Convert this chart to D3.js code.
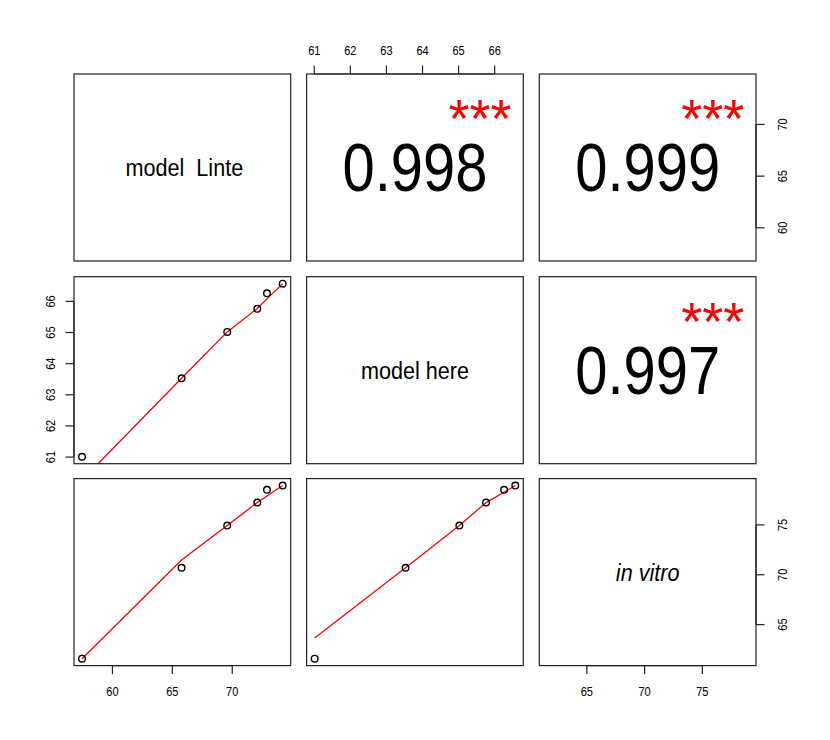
<!DOCTYPE html>
<html>
<head>
<meta charset="utf-8">
<script src="https://cdn.jsdelivr.net/npm/d3@7"></script>
<style>
  body { margin: 0; background: #fff; }
  text { font-family: 'Liberation Sans', Arial, Helvetica, sans-serif; }
  .box { fill: none; stroke: #222; stroke-width: 1.2; }
  .axis-line, .tick-line { stroke: #222; stroke-width: 1.2; }
  .tick-label { font-size: 13px; fill: #000; }
  .point { fill: none; stroke: #000; stroke-width: 1.4; }
  .smooth { fill: none; stroke: #ff0000; stroke-width: 1.3; }
</style>
</head>
<body>
<svg id="chart"></svg>
<script>
// variable names (diagonal labels)
const varNames = ['model  Linte', 'model here', 'in vitro'];

const modelLinte = [57.46, 65.77, 69.58, 72.09, 72.90, 74.21];
const modelHere  = [61.01, 63.53, 65.02, 65.76, 66.26, 66.57];
const inVitro    = [61.58, 70.70, 74.93, 77.24, 78.52, 78.95];

// red smoother values at each x
const smoothHereOnLinte  = [60.26, 63.53, 65.02, 65.77, 66.08, 66.57];
const smoothVitroOnLinte = [61.58, 71.48, 74.93, 77.24, 77.90, 78.95];
const smoothVitroOnHere  = [63.65, 70.70, 74.93, 77.24, 78.27, 78.95];

// correlations for the upper panels
const corPairs  = [[0, 1], [0, 2], [1, 2]];
const corValues = ['0.998', '0.999', '0.997'];
const corStars  = ['***', '***', '***'];

// tick labels
const ticksLinte = [60, 65, 70];
const ticksHere  = [61, 62, 63, 64, 65, 66];
const ticksVitro = [65, 70, 75];

class PairsPlot {

  constructor(_config) {
    this.config = {
      parentElement: _config.parentElement,
      containerWidth: 830,
      containerHeight: 740,
      colX: [74, 306.6, 539.3],
      rowY: [74, 276.7, 478.6],
      cellWidth: 216.7,
      cellHeight: 187,
      tickLen: 8.5
    }
    this.vars = [modelLinte, modelHere, inVitro];
    this.ticks = [ticksLinte, ticksHere, ticksVitro];
    this.smooths = {'1-0': smoothHereOnLinte, '2-0': smoothVitroOnLinte, '2-1': smoothVitroOnHere};
    this.initVis();
  }

  initVis() {
    let vis = this;
    const c = vis.config;

    vis.svg = d3.select(c.parentElement)
        .attr('width', c.containerWidth)
        .attr('height', c.containerHeight);

    // one x scale per column, one y scale per row (R pairs pads range by 4%)
    const padDomain = arr => {
      const [lo, hi] = d3.extent(arr);
      const pad = (hi - lo) * 0.04;
      return [lo - pad, hi + pad];
    };
    vis.xScales = vis.vars.map((v, j) => d3.scaleLinear()
        .domain(padDomain(v))
        .range([c.colX[j], c.colX[j] + c.cellWidth]));
    vis.yScales = vis.vars.map((v, i) => d3.scaleLinear()
        .domain(padDomain(v))
        .range([c.rowY[i] + c.cellHeight, c.rowY[i]]));

    vis.renderVis();
  }

  renderVis() {
    let vis = this;
    const c = vis.config;
    const n = vis.vars.length;

    const defs = vis.svg.append('defs');

    for (let i = 0; i < n; i++) {
      for (let j = 0; j < n; j++) {
        const x0 = c.colX[j], y0 = c.rowY[i];
        const cx = x0 + c.cellWidth / 2, cy = y0 + c.cellHeight / 2;
        const cell = vis.svg.append('g');

        if (i === j) {
          // diagonal: variable name
          cell.append('text')
              .attr('transform', `translate(${cx + (i === 0 ? 2 : 0)},${cy + 8.5}) scale(0.96,1.08)`)
              .attr('text-anchor', 'middle')
              .style('font-size', '22.5px')
              .style('font-style', i === 2 ? 'italic' : 'normal')
              .style('white-space', 'pre')
              .text(varNames[i]);
        } else if (i > j) {
          // lower panel: scatter + smoother
          const xs = vis.xScales[j], ys = vis.yScales[i];
          const xv = vis.vars[j], yv = vis.vars[i];
          const sm = vis.smooths[`${i}-${j}`];
          const clipId = `clip-${i}-${j}`;
          defs.append('clipPath').attr('id', clipId)
              .append('rect')
              .attr('x', x0).attr('y', y0)
              .attr('width', c.cellWidth).attr('height', c.cellHeight);

          cell.append('path')
              .attr('class', 'smooth')
              .attr('clip-path', `url(#${clipId})`)
              .attr('d', d3.line()
                  .x(k => xs(xv[k]))
                  .y(k => ys(sm[k]))(d3.range(xv.length)));

          cell.selectAll('.point')
              .data(d3.range(xv.length))
              .join('circle')
              .attr('class', 'point')
              .attr('cx', k => xs(xv[k]))
              .attr('cy', k => ys(yv[k]))
              .attr('r', 3.3);
        } else {
          // upper panel: correlation and stars
          const idx = corPairs.findIndex(p => p[0] === i && p[1] === j);
          cell.append('text')
              .attr('transform', `translate(${cx},${cy + 23.5}) scale(0.84,1)`)
              .attr('text-anchor', 'middle')
              .style('font-size', '69px')
              .text(corValues[idx]);
          const sx = x0 + 0.8 * c.cellWidth;
          const sy = y0 + c.cellHeight - 0.8 * c.cellHeight;
          cell.append('text')
              .attr('x', sx)
              .attr('y', sy + 26)
              .attr('text-anchor', 'middle')
              .style('font-size', '54px')
              .style('fill', '#ff0000')
              .text(corStars[idx]);
        }

        cell.append('rect')
            .attr('class', 'box')
            .attr('x', x0).attr('y', y0)
            .attr('width', c.cellWidth).attr('height', c.cellHeight);
      }
    }

    // axes, R pairs style: alternating sides
    for (let j = 0; j < n; j++) {
      if (j % 2 === 0) vis.drawAxis('bottom', j);
      else vis.drawAxis('top', j);
    }
    for (let i = 0; i < n; i++) {
      if (i % 2 === 0) vis.drawAxis('right', i);
      else vis.drawAxis('left', i);
    }
  }

  drawAxis(side, k) {
    let vis = this;
    const c = vis.config;
    const ticks = vis.ticks[k];
    const g = vis.svg.append('g');
    const horiz = side === 'bottom' || side === 'top';
    const scale = horiz ? vis.xScales[k] : vis.yScales[k];
    let base, dir, labOff;
    if (side === 'bottom') { base = c.rowY[2] + c.cellHeight; dir = 1; labOff = 26; }
    if (side === 'top')    { base = c.rowY[0]; dir = -1; labOff = 23.3; }
    if (side === 'left')   { base = c.colX[0]; dir = -1; labOff = 23.3; }
    if (side === 'right')  { base = c.colX[2] + c.cellWidth; dir = 1; labOff = 26.7; }

    const [t0, t1] = d3.extent(ticks);
    if (horiz) {
      g.append('line').attr('class', 'axis-line')
          .attr('x1', scale(t0)).attr('x2', scale(t1))
          .attr('y1', base).attr('y2', base);
      g.selectAll('.tick-line').data(ticks).join('line')
          .attr('class', 'tick-line')
          .attr('x1', d => scale(d)).attr('x2', d => scale(d))
          .attr('y1', base).attr('y2', base + dir * c.tickLen);
      g.selectAll('.tick-label').data(ticks).join('text')
          .attr('class', 'tick-label')
          .attr('text-anchor', 'middle')
          .attr('transform', d => `translate(${scale(d)},${base + dir * labOff + 4.6}) scale(0.85,1)`)
          .text(d => d);
    } else {
      g.append('line').attr('class', 'axis-line')
          .attr('y1', scale(t0)).attr('y2', scale(t1))
          .attr('x1', base).attr('x2', base);
      g.selectAll('.tick-line').data(ticks).join('line')
          .attr('class', 'tick-line')
          .attr('y1', d => scale(d)).attr('y2', d => scale(d))
          .attr('x1', base).attr('x2', base + dir * c.tickLen);
      g.selectAll('.tick-label').data(ticks).join('text')
          .attr('class', 'tick-label')
          .attr('text-anchor', 'middle')
          .attr('transform', d => `translate(${base + dir * labOff + 4.6},${scale(d)}) rotate(-90) scale(0.85,1)`)
          .text(d => d);
    }
  }
}

new PairsPlot({parentElement: '#chart'});
</script>
</body>
</html>
